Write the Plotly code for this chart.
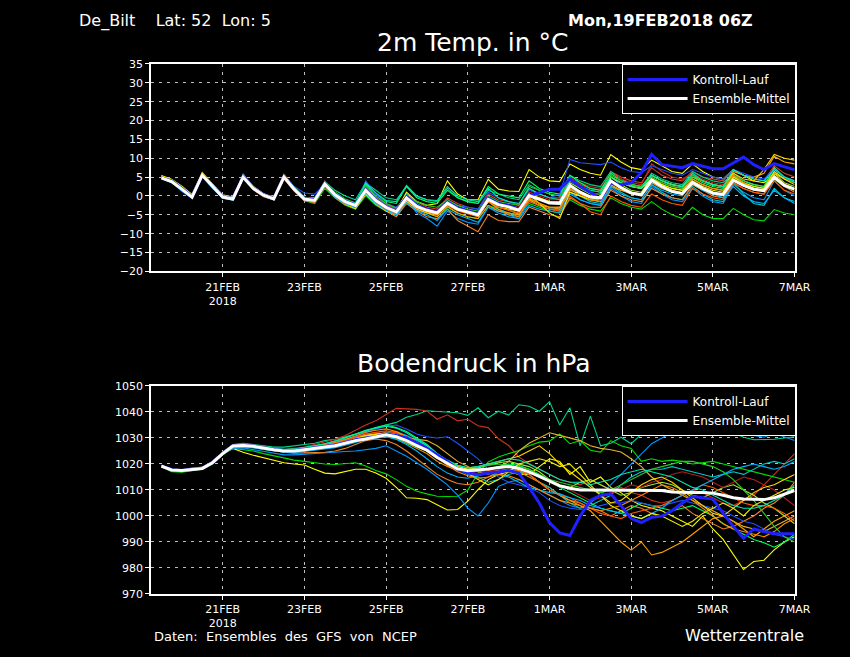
import pandas as pd
import plotly.graph_objects as go

# GFS ensemble plume, De Bilt, run 19FEB2018 06Z, 6-hourly steps
times = pd.date_range("2018-02-19 12:00", "2018-03-07 00:00", freq="6h")

# ---- 2m temperature (degC) ----
temp_m01 = [5.0, 4.0, 2.0, 0.0, 5.8, 2.8, 0.0, -0.5, 5.2, 2.3, 0.5, -0.5,
            5.5, 2.2, -0.5, -1.0, 4.0, 0.8, -1.0, -2.0, 2.5, -0.3, -2.2, -3.5,
            0.5, -1.5, -3.0, -3.5, -0.5, -2.0, -3.0, -3.5, 0.5, -1.0, -1.5, -2.5,
            2.0, 0.5, -0.5, -0.5, 5.0, 3.0, 2.0, 1.5, 6.5, 5.0, 4.0, 3.5,
            7.5, 5.5, 4.5, 4.0, 6.5, 5.0, 4.5, 4.0, 7.0, 5.5, 4.5, 4.0, 8.0, 6.0, 5.0]
temp_m02 = [4.5, 3.5, 1.5, -0.5, 5.3, 2.2, -0.5, -1.0, 4.8, 1.8, 0.0, -1.0,
            4.8, 1.5, -1.2, -2.0, 2.0, -0.5, -2.5, -3.5, 0.0, -2.5, -4.0, -5.0,
            -1.5, -3.5, -4.5, -5.5, -3.0, -4.5, -5.5, -6.0, -2.5, -3.5, -4.5, -5.0,
            -2.0, -3.0, -4.0, -4.5, -1.0, -2.5, -3.5, -4.0, -0.5, -2.0, -3.0, -3.5,
            -1.5, -3.5, -5.0, -6.0, -3.0, -5.0, -6.0, -6.0, -3.3, -5.0, -6.3, -6.6, -3.6, -4.5, -5.0]
temp_m03 = [4.6, 3.6, 1.2, -0.6, 5.2, 2.0, -0.6, -1.0, 5.5, 2.2, 0.3, -0.7,
            5.2, 2.0, -0.5, -0.8, 3.8, 0.5, -1.8, -3.0, 3.5, -0.5, -3.5, -5.0,
            -1.0, -4.5, -6.0, -8.0, -4.0, -6.0, -7.0, -7.5, -3.0, -4.0, -5.0, -6.0,
            -1.5, -2.5, -3.5, -4.0, 1.0, -1.0, -2.0, -2.5, 2.0, 0.0, -1.5, -2.0,
            2.5, 0.5, -1.0, -1.5, 2.0, 0.0, -1.5, -2.0, 3.0, 1.0, -0.5, -1.0, 4.0, 1.5, 0.0]
temp_m04 = [4.9, 3.9, 1.9, -0.2, 5.4, 2.4, -0.2, -0.7, 5.8, 2.5, 0.6, -0.4,
            5.3, 2.0, -0.6, -1.0, 3.5, 0.5, -1.3, -2.2, 3.0, -0.5, -2.5, -3.8,
            0.5, -2.0, -3.5, -4.0, -1.0, -3.0, -4.5, -5.5, -1.5, -3.5, -4.5, -5.5,
            -1.0, -2.5, -3.5, -3.5, 2.0, 0.0, -1.5, -2.0, 3.0, 1.0, -0.5, -1.0,
            3.0, 1.0, -0.5, -1.0, 2.5, 0.5, -1.0, -1.5, 3.5, 0.5, -2.0, -2.5, 2.0, -0.5, -1.5]
temp_m05 = [5.3, 4.3, 2.3, 0.2, 6.0, 3.0, 0.2, -0.3, 5.3, 2.3, 0.4, -0.6,
            4.8, 1.5, -1.0, -0.5, 2.8, 0.0, -2.0, -3.0, 0.5, -2.0, -3.5, -4.0,
            1.0, -1.5, -2.5, -2.0, 4.0, 0.5, -1.0, -1.0, 4.4, 1.8, 1.3, 1.2,
            7.0, 5.0, 4.0, 3.8, 8.5, 7.0, 6.0, 5.5, 11.0, 9.0, 7.5, 7.0,
            9.5, 8.0, 6.5, 6.0, 8.5, 6.5, 5.0, 4.5, 7.0, 5.5, 4.0, 3.5, 6.0, 4.5, 3.5]
temp_m06 = [5.1, 4.1, 2.1, -0.1, 5.7, 2.6, -0.4, -1.0, 4.6, 1.6, -0.2, -1.0,
            4.5, 1.3, -1.3, -1.8, 2.5, -0.5, -2.2, -3.0, 0.8, -2.0, -4.0, -5.5,
            -2.0, -4.0, -5.5, -6.0, -3.5, -6.5, -8.0, -9.5, -5.0, -6.5, -6.8, -6.8,
            -3.0, -4.0, -5.0, -5.5, -0.5, -2.0, -3.0, -3.0, 1.5, 0.0, -1.0, -1.5,
            2.0, 0.5, -0.5, -1.0, 3.0, 1.5, 0.0, -0.5, 3.5, 2.0, 1.0, 0.5, 4.5, 2.5, 1.0]
temp_m07 = [4.7, 3.7, 1.7, -0.4, 5.4, 2.4, -0.3, -0.9, 4.9, 1.9, 0.1, -0.9,
            4.9, 1.7, -0.9, -1.3, 3.0, 0.2, -1.6, -2.6, 1.2, -1.4, -3.2, -4.5,
            -0.8, -3.0, -4.0, -4.8, -2.5, -3.8, -4.5, -5.0, -1.0, -2.5, -3.0, -3.5,
            0.5, -0.5, -1.5, -1.5, 3.5, 2.0, 0.5, 0.5, 5.0, 3.0, 1.5, 1.0,
            5.0, 3.0, 2.0, 1.5, 4.5, 3.0, 2.0, 1.5, 5.0, 3.5, 2.5, 2.0, 6.0, 3.5, 2.5]
temp_m08 = [4.6, 3.6, 1.6, -0.5, 5.2, 2.2, -0.6, -1.1, 4.7, 1.8, 0.0, -1.0,
            5.2, 2.1, -0.5, -0.5, 3.8, 1.5, 0.0, -1.0, 3.5, 1.5, -0.5, -1.0,
            2.5, 0.0, -1.0, -1.5, 2.0, -0.5, -1.5, -2.0, 1.5, 0.5, -0.5, -1.0,
            3.0, 1.5, 0.5, 0.0, 5.5, 4.0, 3.0, 2.5, 6.5, 4.5, 3.0, 2.5,
            6.0, 4.5, 3.5, 3.0, 6.5, 5.0, 4.0, 3.5, 6.0, 4.0, 3.0, 2.5, 7.5, 5.0, 3.5]
temp_m09 = [5.2, 4.2, 2.2, 0.1, 5.6, 2.6, -0.2, -0.7, 5.1, 2.1, 0.3, -0.7,
            5.1, 1.9, -0.7, -1.1, 3.4, 0.4, -1.4, -2.4, 1.8, -1.0, -2.8, -4.0,
            -0.2, -2.5, -3.5, -4.2, -1.5, -3.2, -4.0, -5.0, -1.5, -3.0, -3.8, -4.8,
            -0.8, -2.0, -3.0, -3.0, 1.5, 0.5, -0.5, -1.0, 3.0, 1.5, 0.5, 0.0,
            3.5, 2.0, 1.0, 0.5, 3.0, 1.5, 0.5, 0.0, 4.5, 3.0, 2.0, 1.5, 5.5, 3.0, 2.0]
temp_m10 = [4.9, 3.9, 1.9, -0.2, 5.6, 2.5, -0.3, -0.8, 5.0, 2.0, 0.2, -0.8,
            5.0, 1.8, -0.8, -1.2, 3.0, 0.0, -1.8, -2.8, 1.0, -1.8, -3.6, -4.8,
            -1.2, -3.5, -4.5, -5.5, -2.8, -4.5, -5.5, -6.0, -2.5, -4.0, -4.5, -5.0,
            -1.0, -2.5, -3.0, -3.0, 1.0, 0.0, -1.0, -1.0, 2.5, 1.5, 1.0, 0.5,
            4.5, 3.5, 2.5, 2.0, 5.0, 4.0, 3.0, 2.5, 6.5, 5.5, 5.0, 6.0, 10.5, 9.0, 8.5]
temp_m11 = [5.0, 4.0, 2.0, -0.1, 5.5, 2.5, -0.1, -0.6, 5.2, 2.5, 0.6, -0.3,
            5.8, 2.3, -0.4, -0.9, 3.5, 0.8, -1.2, -2.2, 2.0, -0.8, -2.5, -3.8,
            0.0, -2.5, -3.5, -4.0, -1.0, -3.0, -3.8, -4.5, -0.5, -2.0, -2.5, -3.0,
            1.0, 0.0, -1.0, -1.0, 4.5, 3.5, 2.5, 2.0, 6.0, 4.5, 3.5, 3.0,
            8.5, 6.5, 5.0, 4.5, 6.0, 4.5, 3.5, 3.0, 5.5, 4.0, 3.0, 2.5, 6.5, 4.5, 3.5]
temp_m12 = [4.7, 3.7, 1.7, -0.4, 5.3, 2.3, -0.5, -1.0, 4.9, 1.9, 0.1, -0.9,
            5.1, 1.9, -0.6, -1.4, 3.6, 1.0, -1.0, -2.0, 3.2, 0.5, -1.5, -2.0,
            2.5, -0.5, -1.5, -2.0, 1.5, -0.5, -1.5, -2.0, 2.5, 0.5, 0.0, -0.5,
            4.0, 2.0, 1.0, 0.5, 5.5, 3.5, 2.0, 1.5, 6.0, 4.0, 3.0, 2.5,
            5.5, 4.0, 3.0, 2.5, 5.0, 3.5, 2.5, 2.0, 5.5, 4.0, 3.0, 2.5, 7.5, 5.0, 3.5]
temp_m13 = [4.8, 3.8, 1.8, -0.3, 5.4, 2.5, -0.2, -0.7, 5.0, 2.1, 0.3, -0.6,
            5.0, 2.5, 0.8, 0.5, 3.0, 0.0, -1.5, -2.5, 4.0, 0.5, -2.0, -3.0,
            -1.0, -3.0, -4.0, -4.5, -1.0, -2.5, -3.0, -3.5, 1.0, -0.5, -1.5, -2.0,
            1.5, 0.5, -0.5, 0.5, 9.7, 8.8, 8.5, 8.3, 9.0, 7.5, 6.5, 6.2,
            8.0, 7.0, 6.0, 5.5, 7.0, 6.0, 5.0, 4.5, 7.0, 6.0, 5.0, 4.5, 7.0, 5.0, 4.0]
temp_m14 = [5.1, 4.1, 2.4, 0.3, 6.2, 3.0, 0.0, -0.6, 5.0, 2.0, 0.2, -0.8,
            4.9, 1.7, -1.0, -1.5, 2.8, -0.2, -2.2, -3.4, 0.5, -2.2, -4.0, -5.0,
            -1.5, -3.5, -4.5, -5.0, -2.0, -3.8, -4.5, -5.2, -1.5, -3.0, -3.5, -4.0,
            0.5, -0.5, -1.5, -2.0, 2.5, 1.0, 0.0, -0.5, 5.0, 3.5, 2.5, 2.0,
            5.5, 4.0, 3.0, 2.5, 5.5, 4.0, 3.0, 2.5, 6.0, 4.5, 4.0, 7.0, 11.0, 10.0, 9.5]
temp_m15 = [5.0, 3.9, 1.9, -0.2, 5.5, 2.5, -0.4, -0.9, 4.8, 1.8, 0.0, -1.0,
            4.7, 1.5, -1.1, -1.6, 2.6, -0.3, -2.0, -3.0, 1.0, -1.8, -3.6, -4.8,
            -1.0, -3.2, -4.2, -5.0, -2.4, -4.0, -4.8, -5.5, -1.5, -3.0, -3.8, -4.5,
            -1.5, -2.5, -3.5, -4.0, 0.0, -2.0, -4.2, -5.0, 0.0, -1.5, -2.5, -3.0,
            0.5, -1.0, -2.0, -2.5, 2.0, 0.5, -0.5, -1.0, 3.5, 2.0, 1.0, 0.5, 4.0, 1.5, 0.5]
temp_m16 = [4.8, 3.8, 1.6, -0.5, 5.5, 2.3, -0.4, -0.9, 5.2, 2.2, 0.5, -0.6,
            5.6, 2.4, -0.3, -1.0, 3.8, 1.0, -0.8, -1.8, 2.8, 0.0, -2.0, -3.2,
            0.0, -1.5, -2.5, -3.0, -1.0, -2.5, -3.5, -4.0, 0.0, -1.5, -2.0, -2.5,
            2.5, 1.5, 0.5, 0.0, 4.0, 2.5, 1.5, 1.0, 5.5, 4.0, 3.0, 2.5,
            5.0, 3.5, 2.5, 2.0, 5.5, 4.0, 3.0, 2.5, 5.0, 3.0, 2.0, 1.5, 4.5, 2.5, 1.5]
temp_m17 = [4.7, 3.7, 1.5, -0.6, 5.3, 2.3, -0.5, -1.1, 4.9, 1.9, 0.0, -1.0,
            5.0, 1.6, -1.0, -1.5, 2.8, -0.3, -2.0, -3.0, 0.8, -2.0, -3.8, -5.0,
            -1.8, -3.8, -5.0, -6.5, -3.5, -5.0, -6.0, -7.0, -3.0, -4.5, -5.5, -6.0,
            -2.5, -3.5, -4.0, -4.5, 0.5, -1.0, -2.0, -2.5, 2.5, 0.5, -0.5, -1.0,
            3.0, 1.5, 0.5, 0.0, 3.5, 1.5, 0.5, -0.5, 2.5, 0.0, -1.5, -2.0, 1.5, -0.5, -2.0]
temp_m18 = [5.4, 4.4, 2.6, 0.4, 6.0, 3.0, 0.3, -0.3, 5.5, 2.5, 0.6, -0.4,
            5.3, 2.0, -0.6, -1.0, 3.4, 0.5, -1.2, -2.2, 2.0, -0.8, -2.6, -3.8,
            -0.3, -2.6, -3.6, -4.3, -1.7, -3.3, -4.0, -4.8, -0.5, -2.0, -2.5, -3.5,
            0.5, -2.0, -4.5, -6.0, 1.0, 0.0, -1.0, -1.5, 5.0, 3.5, 2.5, 2.0,
            4.5, 3.0, 2.0, 1.5, 4.0, 2.5, 1.5, 1.0, 5.0, 3.5, 2.5, 2.0, 6.5, 4.5, 3.0]
temp_m19 = [5.2, 4.2, 2.0, -0.1, 5.9, 2.7, -0.2, -0.8, 4.9, 1.9, 0.1, -0.9,
            4.9, 1.6, -1.0, -1.4, 3.1, 0.1, -1.7, -2.7, 1.3, -1.4, -3.2, -4.4,
            -0.8, -3.0, -4.2, -5.0, -2.2, -3.8, -4.5, -5.5, -1.5, -3.5, -5.0, -5.5,
            -0.5, -2.0, -3.0, -3.5, 2.0, 0.5, -1.0, -1.5, 3.5, 2.0, 1.0, 0.5,
            4.0, 2.5, 1.5, 1.0, 4.5, 3.0, 2.0, 1.5, 5.5, 3.5, 2.0, 1.5, 5.5, 3.0, 2.0]
temp_m20 = [4.9, 3.9, 1.8, -0.4, 5.4, 2.4, -0.4, -0.9, 5.3, 2.4, 0.4, -0.6,
            5.4, 2.2, -0.5, -1.1, 3.6, 0.8, -1.1, -2.0, 3.5, 0.8, -1.2, -1.5,
            2.8, 0.0, -1.0, -1.2, 2.5, 0.0, -1.0, -1.5, 2.0, -0.5, -1.5, -2.0,
            2.0, 0.5, -0.5, -1.0, 4.0, 2.5, 1.5, 1.0, 5.0, 3.5, 2.5, 2.0,
            5.5, 4.0, 3.0, 2.5, 6.0, 4.0, 3.0, 2.5, 7.0, 5.5, 4.5, 4.0, 7.0, 5.0, 4.0]
temp_control = [4.8, 4.0, 2.0, -0.2, 5.6, 2.6, -0.2, -0.7, 5.1, 2.1, 0.3, -0.7,
                5.1, 1.9, -0.7, -1.1, 3.4, 0.5, -1.4, -2.4, 1.7, -1.0, -2.8, -4.0,
                -0.2, -2.5, -3.6, -4.3, -1.6, -3.2, -4.0, -4.8, -0.6, -2.0, -2.6, -3.5,
                0.0, 0.8, 1.8, 1.8, 4.5, 2.5, 1.0, -0.8, 3.5, 3.0, 3.5, 6.2,
                11.0, 8.3, 7.9, 7.5, 8.6, 7.9, 7.2, 7.2, 8.8, 10.3, 8.3, 7.0, 8.6, 7.8, 6.9]
temp_mean = [4.8, 3.8, 1.8, -0.3, 5.5, 2.5, -0.3, -0.8, 5.0, 2.0, 0.2, -0.8,
             5.0, 1.8, -0.8, -1.2, 3.2, 0.3, -1.5, -2.5, 1.5, -1.2, -3.0, -4.2,
             -0.5, -2.8, -3.8, -4.5, -1.9, -3.5, -4.2, -5.0, -0.9, -2.3, -2.9, -3.8,
             0.1, -1.0, -1.9, -2.0, 2.8, 1.0, -0.3, -0.5, 4.0, 2.2, 0.8, 0.3,
             4.2, 2.5, 1.2, 0.6, 3.6, 2.0, 0.8, 0.4, 4.2, 2.8, 1.8, 1.4, 5.0, 2.8, 1.8]

# ---- surface pressure (hPa) ----
pres_m01 = [1019, 1017.5, 1017, 1018, 1018.5, 1021, 1024.5,
            1027.5, 1028, 1027.5, 1027, 1026.5, 1026.5, 1027, 1027.5, 1028, 1029, 1029.5, 1030.5, 1031.5, 1032.5,
            1034, 1035, 1036, 1038, 1039, 1040.5, 1040.3, 1040, 1039.7, 1038.7, 1041.6, 1037.8, 1040.3, 1038.8, 1042.8,
            1042.2, 1040.3, 1044, 1035, 1041.6, 1027, 1038.4, 1027, 1028, 1030.3, 1027.8, 1031.5, 1034,
            1033.8, 1034.5, 1036, 1038, 1034, 1037, 1034, 1032, 1030.3, 1029.3, 1029.3, 1029.5, 1030, 1030.5]
pres_m02 = [1019.5, 1018, 1017.5, 1018.5, 1018.5, 1021, 1024.5,
            1027, 1027.5, 1027, 1026.5, 1026, 1025.5, 1026, 1026.5, 1027.5, 1028.5, 1029.5, 1031, 1033, 1035,
            1036.6, 1039, 1041.4, 1041.2, 1041, 1040.4, 1037.2, 1038.9, 1036.6, 1037.2, 1034.7, 1034, 1029.7, 1027.1, 1022.7,
            1020.2, 1018, 1016, 1014, 1013, 1012, 1014, 1012, 1010, 1011, 1009, 1008, 1006,
            1005, 1006, 1008, 1010, 1009, 1007, 1005, 1004, 1006, 1008, 1012, 1016, 1020, 1024]
pres_m03 = [1019, 1017, 1016.8, 1017.5, 1018, 1020, 1023.5,
            1026, 1025.5, 1025, 1024, 1023.2, 1022.3, 1021.5, 1021, 1020.5, 1020, 1019.8, 1020.2, 1020.5, 1019.2,
            1017.5, 1016.2, 1014, 1011.4, 1009.5, 1008.5, 1007.6, 1007.5, 1007.6, 1010, 1016.4, 1020.8, 1022.7, 1024, 1025.2,
            1027, 1028.4, 1028.8, 1031.6, 1027.8, 1029, 1025.3, 1024.6, 1029, 1027, 1026, 1021, 1022,
            1021, 1021.5, 1021, 1020, 1020.5, 1021, 1020, 1019, 1018, 1017, 1016, 1015, 1014, 1013]
pres_m04 = [1019.3, 1017.5, 1017.2, 1017.8, 1018.4, 1020.8, 1024.2,
            1026, 1024.5, 1023.4, 1022.5, 1021.5, 1020.5, 1020, 1019.6, 1018, 1016.5, 1016.2, 1017, 1018, 1018,
            1016.5, 1014.5, 1011, 1007, 1006.8, 1006.3, 1004.4, 1002.3, 1002.5, 1005.7, 1010.1, 1014, 1016, 1017, 1016,
            1016, 1019, 1022, 1021, 1016, 1019, 1013, 1015, 1011, 1009, 1006, 1004, 1003,
            1002, 1000, 998, 996, 1000, 995, 991, 985, 979.4, 982.5, 983, 987, 990, 992]
pres_m05 = [1018.8, 1017.5, 1017.3, 1018, 1018, 1020.2, 1023.8,
            1026, 1026.2, 1025.5, 1024.8, 1024, 1023.5, 1023.5, 1023.8, 1024, 1024.2, 1024.5, 1024.8, 1025, 1025.5,
            1026, 1027, 1025, 1023, 1020.5, 1018, 1015, 1012, 1008, 1003, 1000, 1005, 1011.4, 1013, 1014,
            1012, 1010, 1008, 1006, 1004, 1003, 1005, 1008, 1012, 1016, 1020, 1024, 1027.8,
            1030, 1032.2, 1033, 1034, 1035, 1036.6, 1034, 1033, 1032.8, 1031, 1030.3, 1031.8, 1030.5, 1029]
pres_m06 = [1019.5, 1017.8, 1017.8, 1018.3, 1018.8, 1021, 1024.5,
            1027.5, 1027.2, 1026.8, 1026, 1025.2, 1024.5, 1024.2, 1024.3, 1024.5, 1024.5, 1025, 1026, 1027.5, 1029,
            1029.6, 1029, 1027.5, 1025, 1022, 1019, 1016, 1014, 1012.5, 1012, 1013, 1015, 1017, 1018, 1017,
            1015, 1013, 1011, 1008, 1006, 1005, 1003, 1002, 1000, 1002, 1004, 1003, 1001,
            1000, 1002, 1004, 1001, 999, 997, 995, 996, 998, 1000, 1003, 1005, 1008, 1013]
pres_m07 = [1019, 1017.8, 1017.3, 1018.2, 1018.2, 1020.5, 1024,
            1027, 1027.5, 1027.3, 1026.5, 1026, 1025.5, 1025.5, 1026, 1026.8, 1027.5, 1028.5, 1029.5, 1030.5, 1031,
            1031.5, 1032, 1031.5, 1030, 1028, 1026, 1023, 1020, 1018.5, 1018, 1018.5, 1019.5, 1020.5, 1021, 1020,
            1019, 1017, 1014, 1012, 1011, 1013, 1014, 1012, 1010, 1008, 1009, 1011, 1012,
            1013, 1012, 1010, 1008, 1007, 1009, 1011, 1012, 1010, 1008, 1005, 1003, 1000, 997]
pres_m08 = [1019.2, 1017.6, 1017.4, 1018, 1018.4, 1020.6, 1024,
            1026.7, 1027, 1026.5, 1026, 1025.5, 1025.2, 1025.4, 1025.8, 1026.5, 1027, 1027.5, 1028, 1029, 1030,
            1031, 1032, 1032.5, 1031, 1029, 1027, 1024, 1021, 1018, 1016, 1015, 1013, 1014, 1016, 1017,
            1016, 1013, 1011, 1008, 1005, 1003, 1004, 1006, 1008, 1012, 1015, 1017, 1018,
            1018, 1019, 1018, 1017, 1016, 1015, 1016, 1017, 1016, 1018, 1020, 1021, 1020, 1022]
pres_m09 = [1019.4, 1017.9, 1017.6, 1018.1, 1018.5, 1020.7, 1024.3,
            1027.2, 1027.5, 1027, 1026.3, 1025.8, 1025.3, 1025.3, 1025.8, 1026.5, 1027, 1027.8, 1028.8, 1030, 1030.8,
            1031.5, 1032, 1031, 1030, 1029.5, 1029, 1027, 1024, 1021, 1019, 1017, 1016, 1018, 1021, 1025,
            1028, 1030, 1032, 1031, 1030, 1029, 1027, 1026, 1025.5, 1024.6, 1022, 1019, 1015,
            1012, 1010, 1008, 1006, 1004, 1002, 1000, 998, 996, 995, 994, 996, 998, 1000]
pres_m10 = [1019, 1017.6, 1017.5, 1018, 1018.3, 1020.4, 1023.8,
            1026.5, 1026.8, 1026.5, 1025.8, 1025.3, 1024.8, 1024.8, 1025.2, 1025.8, 1026.3, 1027, 1028, 1029, 1030,
            1030.5, 1031, 1030, 1028, 1026, 1024, 1021, 1019, 1017.5, 1017, 1016, 1016.5, 1017.5, 1018, 1017.5,
            1016, 1013, 1010, 1008, 1006, 1004, 1002, 998, 994, 990, 986.9, 990, 985,
            986, 988, 990, 993, 996, 999, 1000, 998, 995, 992, 995, 998, 1000, 1002]
pres_m11 = [1019.6, 1018, 1017.7, 1018.2, 1018.6, 1020.8, 1024.3,
            1027, 1027.4, 1027.2, 1026.5, 1026, 1025.5, 1025.6, 1026, 1026.8, 1027.5, 1028.3, 1029.3, 1030.5, 1031.5,
            1032, 1032.5, 1032, 1030.5, 1028.5, 1026.5, 1024, 1021, 1019, 1017.5, 1016, 1017, 1018, 1019.5, 1019,
            1018, 1016, 1014, 1012, 1010, 1008, 1006, 1007, 1009, 1010, 1012, 1011, 1013,
            1014, 1016, 1017, 1016, 1015, 1013, 1011, 1013, 1015, 1014, 1012, 1010, 1007, 1004]
pres_m12 = [1019.1, 1017.4, 1017.2, 1017.9, 1018.2, 1020.4, 1023.9,
            1026.8, 1027.2, 1026.9, 1026.2, 1025.7, 1025.3, 1025.5, 1026.2, 1027, 1027.8, 1028.8, 1030, 1031.5, 1033,
            1034, 1035, 1034, 1032.5, 1030, 1027.5, 1024, 1021, 1019, 1018, 1017.5, 1018, 1019, 1020, 1019.5,
            1018, 1016, 1014, 1011, 1009, 1007, 1005, 1003, 1002, 1001, 1003, 1005, 1004,
            1003, 1002, 1003, 1004, 1002, 1000, 997, 995, 993, 991, 989.7, 988, 990, 993]
pres_m13 = [1019.3, 1017.7, 1017.6, 1018.3, 1018.6, 1020.6, 1024.1,
            1026.9, 1027.1, 1026.6, 1026, 1025.4, 1025, 1025.2, 1025.7, 1026.5, 1027.3, 1028.2, 1029.2, 1030.5, 1032,
            1033.5, 1034.5, 1035, 1033.5, 1031.5, 1030.5, 1030, 1030.5, 1028, 1025, 1022, 1018, 1015, 1013, 1012,
            1011, 1009, 1006, 1004, 1003, 1002.5, 1003, 1004, 1005, 1005, 1006, 1005, 1004,
            1004, 1005, 1006, 1005, 1004, 1003, 1002, 1000, 998, 997, 995, 993, 992, 991]
pres_m14 = [1019.2, 1017.8, 1017.5, 1018.1, 1018.4, 1020.6, 1024.2,
            1026.8, 1026.9, 1026.5, 1025.8, 1025.2, 1024.6, 1024.5, 1025, 1025.8, 1026.5, 1027.3, 1028.5, 1029.8, 1031,
            1031.5, 1031.8, 1031, 1029.5, 1027.5, 1025.5, 1023, 1021, 1019, 1018, 1019, 1020, 1021, 1022, 1023,
            1025, 1027, 1024, 1020, 1017, 1014, 1011, 1008, 1005, 1006, 1009, 1012, 1014,
            1015, 1013, 1010, 1007, 1004, 1001, 1000, 1003, 1006, 1009, 1011, 1012, 1014, 1016]
pres_m15 = [1019.4, 1017.8, 1017.6, 1018.3, 1018.7, 1020.9, 1024.4,
            1027.3, 1027.6, 1027.2, 1026.4, 1025.8, 1025.3, 1025.2, 1025.6, 1026.4, 1027.2, 1028, 1029, 1030.3, 1031.5,
            1032.2, 1032.8, 1032, 1030.5, 1028.5, 1026, 1023, 1020.5, 1018.5, 1017.5, 1017, 1017.5, 1018.5, 1019, 1018,
            1016, 1013, 1010, 1008, 1007, 1005, 1003, 1001, 1000, 999, 1001, 1002, 1003,
            1004, 1006, 1008, 1010, 1012, 1011, 1009, 1007, 1005, 1004, 1004, 1003, 1001, 998]
pres_m16 = [1018.9, 1017.3, 1017, 1017.7, 1018, 1020.2, 1023.6,
            1026.3, 1026.6, 1026.3, 1025.6, 1025, 1024.6, 1024.6, 1025, 1025.6, 1026, 1026.6, 1027.5, 1028.5, 1029.5,
            1030, 1030.5, 1029.5, 1028, 1026.5, 1025, 1023, 1021, 1019.5, 1018.5, 1019, 1019.5, 1020, 1019.5, 1019,
            1018, 1016, 1014, 1013, 1012, 1011, 1010, 1009, 1010, 1012, 1014, 1016, 1018,
            1019, 1020, 1021, 1021, 1020, 1019, 1017, 1014, 1010, 1006, 1001, 996, 992, 990]
pres_m17 = [1019, 1017.5, 1017.3, 1018, 1018.2, 1020.3, 1023.9,
            1026.5, 1026.8, 1026.2, 1025.5, 1025, 1024.5, 1024.3, 1024.7, 1025.3, 1025.8, 1026.3, 1027.2, 1028.2, 1029.3,
            1030, 1030.5, 1029.5, 1027.5, 1025, 1022, 1019, 1016.5, 1015, 1014.5, 1015.5, 1016.5, 1016, 1015, 1013,
            1011, 1010, 1009, 1008.5, 1007, 1006, 1004, 1003, 1002, 1001, 1000, 999, 1001,
            1003, 1006, 1008, 1010, 1012, 1014, 1016, 1018, 1019, 1020, 1019, 1018, 1019, 1021]
pres_m18 = [1019.1, 1017.7, 1017.5, 1018, 1018.5, 1020.6, 1024.1,
            1026.8, 1027, 1026.6, 1025.9, 1025.3, 1024.9, 1025, 1025.5, 1026.2, 1026.8, 1027.5, 1028.5, 1029.6, 1030.6,
            1031, 1031.3, 1030.5, 1029, 1027, 1025, 1022.5, 1020, 1018, 1016.5, 1014, 1012, 1014, 1017, 1020,
            1021, 1022, 1021, 1019, 1020, 1016, 1012, 1008, 1004, 1002, 1000, 999, 1001,
            1000, 998, 996, 998, 1001, 1003, 1005, 1003, 1000, 1004, 1006, 1008, 1010, 1011]
pres_m19 = [1019.3, 1017.7, 1017.4, 1018.2, 1018.5, 1020.7, 1024.2,
            1027, 1027.3, 1027, 1026.4, 1025.9, 1025.4, 1025.4, 1025.8, 1026.6, 1027.4, 1028.3, 1029.4, 1030.8, 1032.2,
            1033, 1033.5, 1032.5, 1030.5, 1028, 1025.5, 1022.5, 1019.5, 1017, 1015.5, 1014.5, 1015, 1016, 1015.5, 1014,
            1012, 1010, 1008, 1006, 1005, 1004, 1003, 1002, 1003, 1004, 1006, 1008, 1010,
            1012, 1011, 1009, 1006, 1003, 1000, 997, 995, 994, 993, 992, 994, 997, 999]
pres_m20 = [1019.2, 1017.6, 1017.3, 1018, 1018.3, 1020.5, 1024,
            1026.9, 1027.3, 1027.1, 1026.5, 1026.1, 1025.7, 1025.8, 1026.3, 1027, 1027.8, 1028.8, 1030, 1031.4, 1032.8,
            1033.8, 1034.5, 1033.8, 1032, 1029.5, 1027, 1024, 1021.5, 1019.5, 1018.5, 1019, 1020, 1021, 1022, 1021.5,
            1020, 1018, 1016, 1014, 1013, 1013, 1012, 1013, 1014, 1016, 1017, 1018, 1017,
            1016, 1015, 1013, 1011, 1010, 1008, 1006, 1004, 1003, 1003, 1004, 1006, 1008, 1012]
pres_control = [1019.3, 1017.8, 1017.5, 1018.1, 1018.4, 1020.6, 1024.1,
                1027, 1027.2, 1026.9, 1026.2, 1025.6, 1025.1, 1025.1, 1025.6, 1026.2, 1026.7, 1027.3, 1028.3, 1029.3, 1030,
                1030.5, 1031.5, 1031, 1030, 1028, 1026, 1023.5, 1021, 1018, 1016.5, 1016, 1016.5, 1017, 1017.5, 1016.5,
                1011, 1005, 997.5, 993.5, 992.5, 1000, 1006, 1008, 1008.5, 1004, 999, 997.5, 999.5,
                1000, 1002, 1005, 1007.5, 1007, 1006.5, 1001, 996, 991.5, 995, 994, 993.2, 993.2, 993.2]
pres_mean = [1019.2, 1017.7, 1017.5, 1018, 1018.3, 1020.5, 1024,
             1026.9, 1027.1, 1026.8, 1026.1, 1025.5, 1025, 1025, 1025.5, 1026.1, 1026.5, 1027, 1028, 1029, 1029.6,
             1030.3, 1031.2, 1030.5, 1029, 1027.1, 1025.3, 1022.5, 1020.2, 1018.1, 1017.4, 1017.7, 1018.1, 1018.7, 1019, 1018.3,
             1017, 1015.2, 1013.3, 1011.6, 1010.7, 1010, 1010, 1010, 1010, 1010, 1010, 1010, 1010,
             1009.8, 1009.2, 1009, 1009, 1009, 1008.8, 1008, 1007, 1006.5, 1006.3, 1006.3, 1007, 1008.3, 1009.8]

temp_members = [temp_m01, temp_m02, temp_m03, temp_m04, temp_m05, temp_m06, temp_m07,
                temp_m08, temp_m09, temp_m10, temp_m11, temp_m12, temp_m13, temp_m14,
                temp_m15, temp_m16, temp_m17, temp_m18, temp_m19, temp_m20]
pres_members = [pres_m01, pres_m02, pres_m03, pres_m04, pres_m05, pres_m06, pres_m07,
                pres_m08, pres_m09, pres_m10, pres_m11, pres_m12, pres_m13, pres_m14,
                pres_m15, pres_m16, pres_m17, pres_m18, pres_m19, pres_m20]

temp_member_colors = ["#dc3c28", "#00dc00", "#0096ff", "#00c8c8", "#ffff00",
                      "#f08228", "#a0e632", "#00d28c", "#e6af2d", "#ffa000",
                      "#c8281e", "#00ff64", "#1e50ff", "#ffd700", "#ff5a00",
                      "#28c828", "#00b4ff", "#f0f000", "#ff8c00", "#00e6b4"]
pres_member_colors = ["#00d28c", "#c8321e", "#00dc00", "#ffff00", "#0096ff",
                      "#f08228", "#a0e632", "#00c8c8", "#e6af2d", "#ffa000",
                      "#b41e1e", "#00ff64", "#1e50ff", "#ffd700", "#ff5a00",
                      "#28c828", "#00b4ff", "#f0f000", "#ff8c00", "#00e6b4"]

for series in temp_members + pres_members + [temp_control, temp_mean, pres_control, pres_mean]:
    assert len(series) == len(times), len(series)

date_ticks = ["2018-02-21", "2018-02-23", "2018-02-25", "2018-02-27",
              "2018-03-01", "2018-03-03", "2018-03-05", "2018-03-07"]
date_labels = ["21FEB<br>2018", "23FEB", "25FEB", "27FEB", "1MAR", "3MAR", "5MAR", "7MAR"]
temp_ticks = list(range(-20, 36, 5))
pres_ticks = list(range(970, 1051, 10))

FONT = "DejaVu Sans"
CONTROL_COLOR = "#2020ff"

# the page keeps the browser's 8px body margin, so the figure is 16px smaller than the
# 850x657 window; px/py turn window pixel positions into paper fractions
W, H, PAD = 834, 641, 8


def px(x):
    return (x - PAD) / W


def py(y):
    return 1 - (y - PAD) / H


fig = go.Figure()

for vals, col in zip(temp_members, temp_member_colors):
    fig.add_trace(go.Scatter(x=times, y=vals, mode="lines", line=dict(color=col, width=1.1),
                             showlegend=False, hoverinfo="skip", xaxis="x", yaxis="y"))
fig.add_trace(go.Scatter(x=times, y=temp_control, mode="lines", name="Kontroll-Lauf",
                         line=dict(color=CONTROL_COLOR, width=3), xaxis="x", yaxis="y", legend="legend"))
fig.add_trace(go.Scatter(x=times, y=temp_mean, mode="lines", name="Ensemble-Mittel",
                         line=dict(color="white", width=3), xaxis="x", yaxis="y", legend="legend"))

for vals, col in zip(pres_members, pres_member_colors):
    fig.add_trace(go.Scatter(x=times, y=vals, mode="lines", line=dict(color=col, width=1.1),
                             showlegend=False, hoverinfo="skip", xaxis="x2", yaxis="y2"))
fig.add_trace(go.Scatter(x=times, y=pres_control, mode="lines", name="Kontroll-Lauf",
                         line=dict(color=CONTROL_COLOR, width=3), xaxis="x2", yaxis="y2", legend="legend2"))
fig.add_trace(go.Scatter(x=times, y=pres_mean, mode="lines", name="Ensemble-Mittel",
                         line=dict(color="white", width=3), xaxis="x2", yaxis="y2", legend="legend2"))

axis_style = dict(showline=True, linecolor="white", linewidth=2, mirror=True,
                  showgrid=True, gridcolor="#bdbdbd", gridwidth=1, griddash="3px,5px",
                  ticks="outside", ticklen=4, tickcolor="white", zeroline=False,
                  tickfont=dict(family=FONT, size=11, color="white"))
x_dom = [px(154), px(810)]
x_range = ["2018-02-19 06:00", "2018-03-07 00:00"]

legend_style = dict(x=px(811), xanchor="right", bgcolor="black", bordercolor="white",
                    borderwidth=1, itemwidth=60, tracegroupgap=0,
                    font=dict(family=FONT, size=12, color="white"))


def label(text, x, y, size, xanchor="left", bold=False):
    return dict(text=f"<b>{text}</b>" if bold else text, x=px(x), y=py(y),
                xref="paper", yref="paper", xanchor=xanchor, yanchor="middle",
                showarrow=False, font=dict(family=FONT, size=size, color="white"))


nb = "\u00a0"
fig.update_layout(
    width=W, height=H,
    margin=dict(l=0, r=0, t=0, b=0),
    paper_bgcolor="black", plot_bgcolor="black",
    xaxis=dict(axis_style, domain=x_dom, anchor="y", type="date", range=x_range,
               tickmode="array", tickvals=date_ticks, ticktext=date_labels),
    yaxis=dict(axis_style, domain=[py(270.7), py(59)], anchor="x",
               range=[-20, 35], tickmode="array", tickvals=temp_ticks),
    xaxis2=dict(axis_style, domain=x_dom, anchor="y2", type="date", range=x_range,
                tickmode="array", tickvals=date_ticks, ticktext=date_labels),
    yaxis2=dict(axis_style, domain=[py(600), py(387.7)], anchor="x2",
                range=[970, 1050], tickmode="array", tickvals=pres_ticks),
    legend=dict(legend_style, y=py(59), yanchor="top"),
    legend2=dict(legend_style, y=py(387.7), yanchor="top"),
    annotations=[
        label(f"De_Bilt{nb * 4}Lat: 52{nb * 2}Lon: 5", 78, 15, 16),
        label("Mon,19FEB2018 06Z", 770, 15, 16, xanchor="right", bold=True),
        label("2m Temp. in °C", 482, 37, 25, xanchor="center"),
        label("Bodendruck in hPa", 483, 365, 25, xanchor="center"),
        label(f"Daten:{nb} Ensembles{nb} des{nb} GFS{nb} von{nb} NCEP", 155, 643, 13),
        label("Wetterzentrale", 822, 642, 16, xanchor="right"),
    ],
)

# black page behind the figure (the body margin itself is left alone)
fig.write_html("out.html", config={"displayModeBar": False},
               post_script="document.documentElement.style.background='black';"
                           "document.body.style.background='black';")
